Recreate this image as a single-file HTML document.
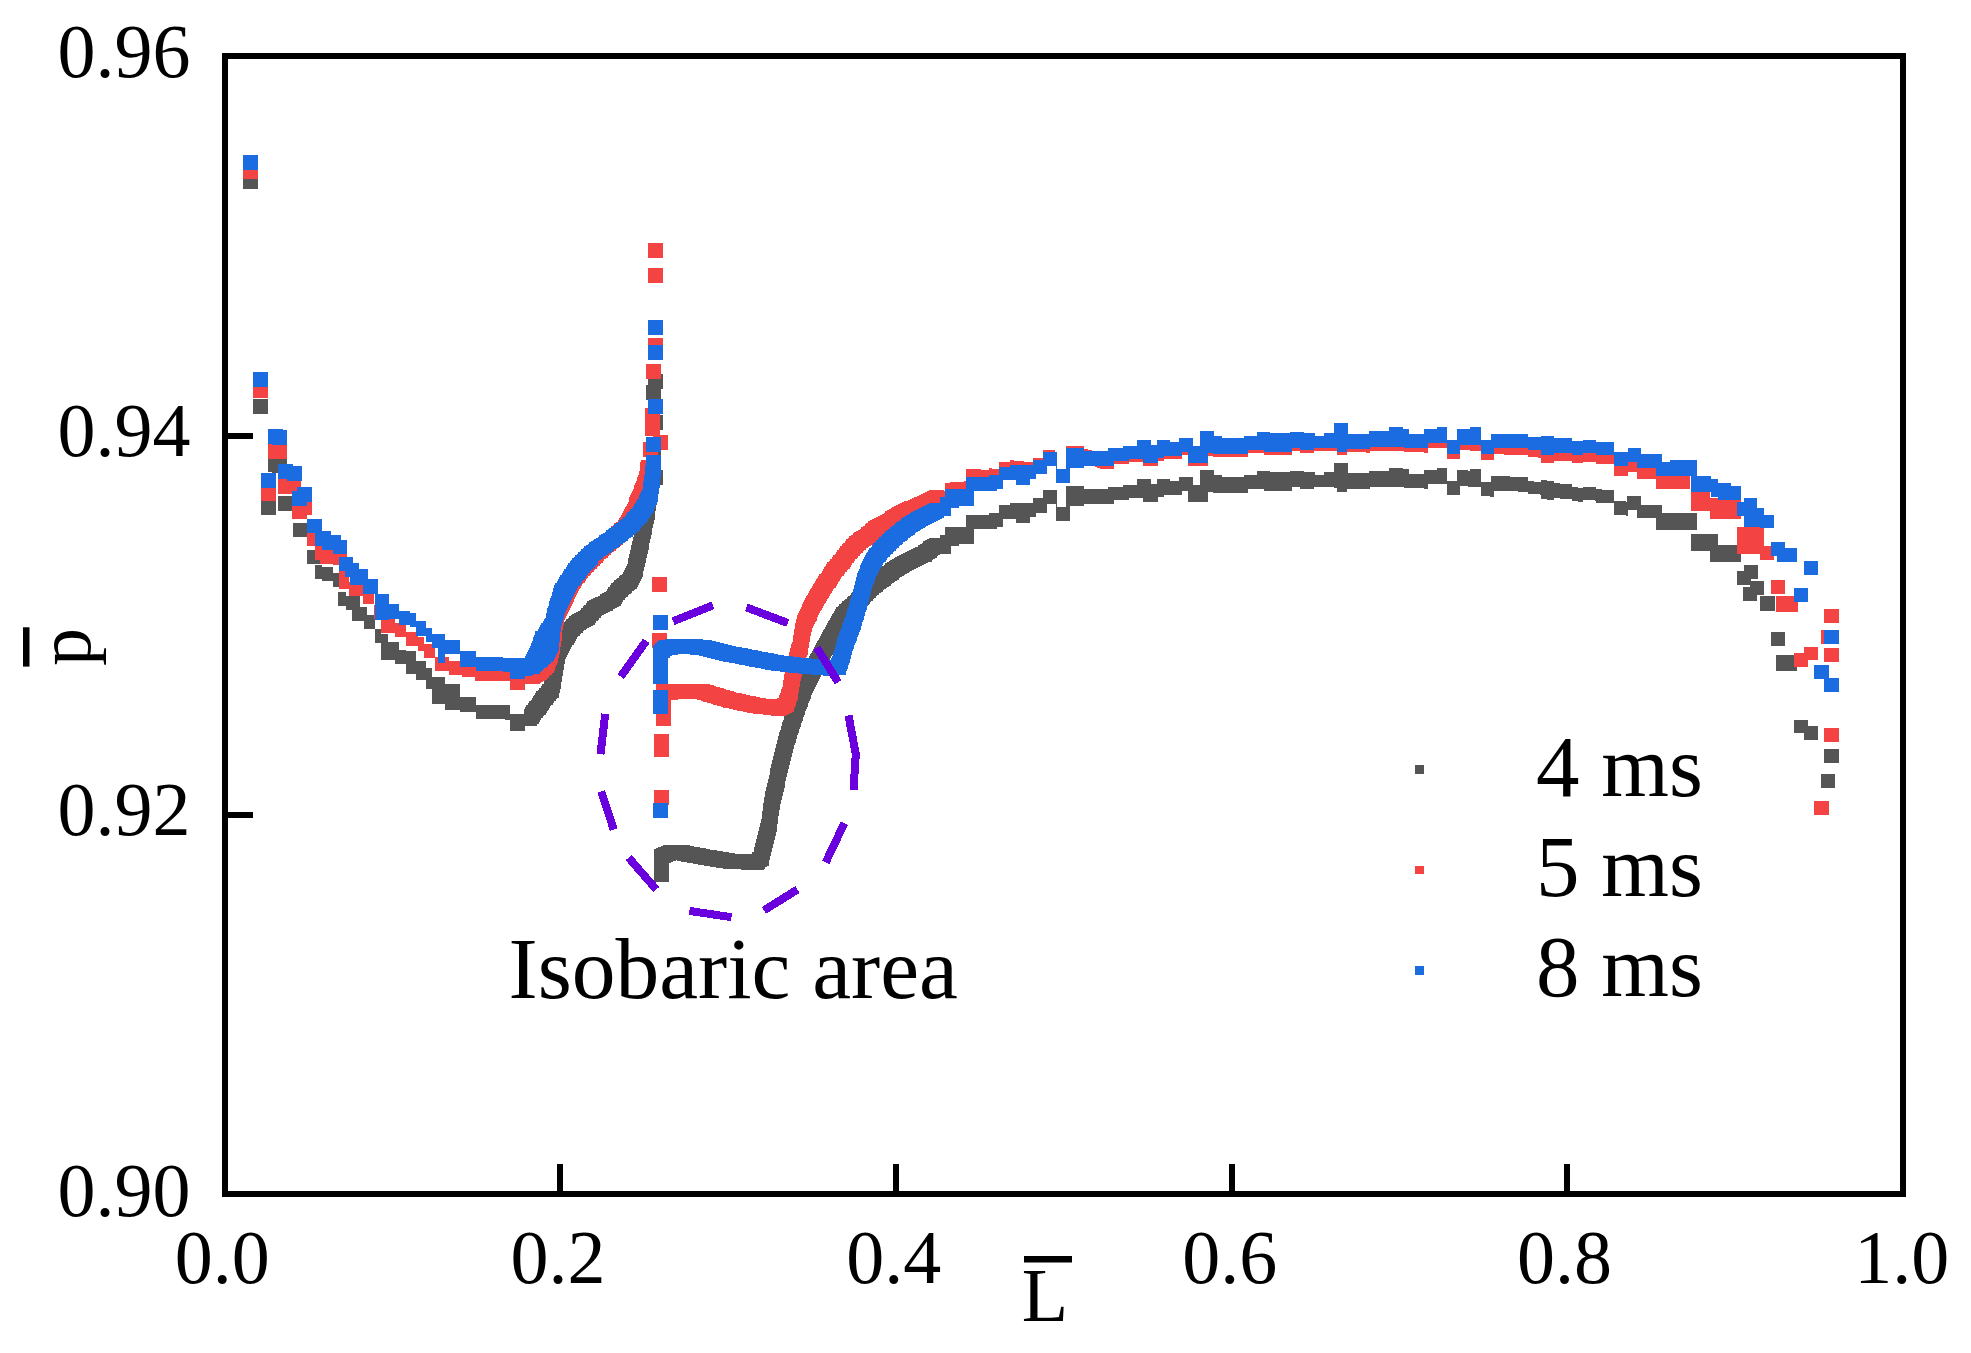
<!DOCTYPE html><html><head><meta charset="utf-8"><title>Chart</title><style>html,body{margin:0;padding:0;background:#fff;overflow:hidden}svg{display:block}</style></head><body><svg width="1971" height="1353" viewBox="0 0 1971 1353" shape-rendering="crispEdges"><rect x="0" y="0" width="1971" height="1353" fill="#ffffff"/><path fill="#555555" d="M242.5 173.5h15.0v15.0h-15.0zM252.8 399.3h15.0v15.0h-15.0zM261.1 499.5h15.0v15.0h-15.0zM267.5 457.0h15.0v15.0h-15.0zM271.5 457.5h15.0v15.0h-15.0zM277.5 495.5h15.0v15.0h-15.0zM285.5 495.5h15.0v15.0h-15.0zM523.5 708.5h15.0v15.0h-15.0zM524.9 706.7h15.0v15.0h-15.0zM526.3 704.9h15.0v15.0h-15.0zM527.7 703.1h15.0v15.0h-15.0zM529.1 701.3h15.0v15.0h-15.0zM530.5 699.5h15.0v15.0h-15.0zM531.7 697.8h15.0v15.0h-15.0zM532.8 696.2h15.0v15.0h-15.0zM534.0 694.5h15.0v15.0h-15.0zM535.2 692.8h15.0v15.0h-15.0zM536.3 691.2h15.0v15.0h-15.0zM537.5 689.5h15.0v15.0h-15.0zM539.0 687.8h15.0v15.0h-15.0zM540.5 686.0h15.0v15.0h-15.0zM542.0 684.2h15.0v15.0h-15.0zM543.5 682.5h15.0v15.0h-15.0zM544.0 680.2h15.0v15.0h-15.0zM544.5 678.0h15.0v15.0h-15.0zM545.0 675.8h15.0v15.0h-15.0zM545.5 673.5h15.0v15.0h-15.0zM545.8 671.3h15.0v15.0h-15.0zM546.2 669.2h15.0v15.0h-15.0zM546.5 667.0h15.0v15.0h-15.0zM546.8 664.8h15.0v15.0h-15.0zM547.2 662.7h15.0v15.0h-15.0zM547.5 660.5h15.0v15.0h-15.0zM547.8 658.5h15.0v15.0h-15.0zM548.2 656.5h15.0v15.0h-15.0zM548.5 654.5h15.0v15.0h-15.0zM548.8 652.5h15.0v15.0h-15.0zM549.2 650.5h15.0v15.0h-15.0zM549.5 648.5h15.0v15.0h-15.0zM550.3 646.3h15.0v15.0h-15.0zM551.1 644.1h15.0v15.0h-15.0zM551.9 641.9h15.0v15.0h-15.0zM552.7 639.7h15.0v15.0h-15.0zM553.5 637.5h15.0v15.0h-15.0zM554.8 635.5h15.0v15.0h-15.0zM556.0 633.5h15.0v15.0h-15.0zM557.2 631.5h15.0v15.0h-15.0zM558.5 629.5h15.0v15.0h-15.0zM559.7 627.7h15.0v15.0h-15.0zM560.9 625.9h15.0v15.0h-15.0zM562.1 624.1h15.0v15.0h-15.0zM563.3 622.3h15.0v15.0h-15.0zM564.5 620.5h15.0v15.0h-15.0zM566.0 619.0h15.0v15.0h-15.0zM567.5 617.5h15.0v15.0h-15.0zM569.0 616.0h15.0v15.0h-15.0zM570.5 614.5h15.0v15.0h-15.0zM572.3 613.5h15.0v15.0h-15.0zM574.1 612.5h15.0v15.0h-15.0zM575.9 611.5h15.0v15.0h-15.0zM577.7 610.5h15.0v15.0h-15.0zM579.5 609.5h15.0v15.0h-15.0zM581.0 607.8h15.0v15.0h-15.0zM582.5 606.2h15.0v15.0h-15.0zM584.0 604.5h15.0v15.0h-15.0zM585.5 602.8h15.0v15.0h-15.0zM587.0 601.2h15.0v15.0h-15.0zM588.5 599.5h15.0v15.0h-15.0zM590.8 598.5h15.0v15.0h-15.0zM593.0 597.5h15.0v15.0h-15.0zM595.2 596.5h15.0v15.0h-15.0zM597.5 595.5h15.0v15.0h-15.0zM599.5 594.2h15.0v15.0h-15.0zM601.5 593.0h15.0v15.0h-15.0zM603.5 591.8h15.0v15.0h-15.0zM605.5 590.5h15.0v15.0h-15.0zM606.9 588.7h15.0v15.0h-15.0zM608.3 586.9h15.0v15.0h-15.0zM609.7 585.1h15.0v15.0h-15.0zM611.1 583.3h15.0v15.0h-15.0zM612.5 581.5h15.0v15.0h-15.0zM614.0 580.2h15.0v15.0h-15.0zM615.5 578.8h15.0v15.0h-15.0zM617.0 577.5h15.0v15.0h-15.0zM618.5 576.2h15.0v15.0h-15.0zM620.0 574.8h15.0v15.0h-15.0zM621.5 573.5h15.0v15.0h-15.0zM622.5 571.5h15.0v15.0h-15.0zM623.5 569.5h15.0v15.0h-15.0zM624.5 567.5h15.0v15.0h-15.0zM625.5 565.5h15.0v15.0h-15.0zM626.5 563.5h15.0v15.0h-15.0zM627.5 561.5h15.0v15.0h-15.0zM627.9 559.5h15.0v15.0h-15.0zM628.4 557.5h15.0v15.0h-15.0zM628.8 555.5h15.0v15.0h-15.0zM629.2 553.5h15.0v15.0h-15.0zM629.6 551.5h15.0v15.0h-15.0zM630.1 549.5h15.0v15.0h-15.0zM630.5 547.5h15.0v15.0h-15.0zM631.0 545.3h15.0v15.0h-15.0zM631.5 543.2h15.0v15.0h-15.0zM632.0 541.0h15.0v15.0h-15.0zM632.5 538.8h15.0v15.0h-15.0zM633.0 536.7h15.0v15.0h-15.0zM633.5 534.5h15.0v15.0h-15.0zM633.9 532.4h15.0v15.0h-15.0zM634.4 530.2h15.0v15.0h-15.0zM634.8 528.1h15.0v15.0h-15.0zM635.2 525.9h15.0v15.0h-15.0zM635.6 523.8h15.0v15.0h-15.0zM636.1 521.6h15.0v15.0h-15.0zM636.5 519.5h15.0v15.0h-15.0zM636.9 517.4h15.0v15.0h-15.0zM637.4 515.2h15.0v15.0h-15.0zM637.8 513.1h15.0v15.0h-15.0zM638.2 510.9h15.0v15.0h-15.0zM638.6 508.8h15.0v15.0h-15.0zM639.1 506.6h15.0v15.0h-15.0zM639.5 504.5h15.0v15.0h-15.0zM639.8 502.4h15.0v15.0h-15.0zM640.1 500.2h15.0v15.0h-15.0zM640.4 498.1h15.0v15.0h-15.0zM640.6 495.9h15.0v15.0h-15.0zM640.9 493.8h15.0v15.0h-15.0zM641.2 491.6h15.0v15.0h-15.0zM641.5 489.5h15.0v15.0h-15.0zM641.8 487.3h15.0v15.0h-15.0zM642.2 485.2h15.0v15.0h-15.0zM642.5 483.0h15.0v15.0h-15.0zM642.8 480.8h15.0v15.0h-15.0zM643.2 478.7h15.0v15.0h-15.0zM643.5 476.5h15.0v15.0h-15.0zM648.1 469.5h15.0v15.0h-15.0zM646.1 447.5h15.0v15.0h-15.0zM648.1 414.5h15.0v15.0h-15.0zM645.5 384.5h15.0v15.0h-15.0zM647.5 373.5h15.0v15.0h-15.0zM654.0 867.0h15.0v15.0h-15.0zM654.0 864.9h15.0v15.0h-15.0zM654.0 862.9h15.0v15.0h-15.0zM654.0 860.8h15.0v15.0h-15.0zM654.0 858.8h15.0v15.0h-15.0zM654.0 856.7h15.0v15.0h-15.0zM654.0 854.7h15.0v15.0h-15.0zM654.0 852.6h15.0v15.0h-15.0zM654.0 850.6h15.0v15.0h-15.0zM654.0 848.5h15.0v15.0h-15.0zM656.2 847.5h15.0v15.0h-15.0zM658.3 846.5h15.0v15.0h-15.0zM660.5 845.5h15.0v15.0h-15.0zM662.5 845.4h15.0v15.0h-15.0zM664.5 845.3h15.0v15.0h-15.0zM666.5 845.2h15.0v15.0h-15.0zM668.5 845.2h15.0v15.0h-15.0zM670.5 845.1h15.0v15.0h-15.0zM672.5 845.0h15.0v15.0h-15.0zM674.6 845.4h15.0v15.0h-15.0zM676.7 845.8h15.0v15.0h-15.0zM678.8 846.1h15.0v15.0h-15.0zM680.8 846.5h15.0v15.0h-15.0zM682.9 846.9h15.0v15.0h-15.0zM685.0 847.2h15.0v15.0h-15.0zM687.1 847.6h15.0v15.0h-15.0zM689.2 848.0h15.0v15.0h-15.0zM691.2 848.4h15.0v15.0h-15.0zM693.3 848.8h15.0v15.0h-15.0zM695.4 849.1h15.0v15.0h-15.0zM697.5 849.5h15.0v15.0h-15.0zM699.6 849.8h15.0v15.0h-15.0zM701.7 850.2h15.0v15.0h-15.0zM703.8 850.5h15.0v15.0h-15.0zM705.8 850.8h15.0v15.0h-15.0zM707.9 851.2h15.0v15.0h-15.0zM710.0 851.5h15.0v15.0h-15.0zM712.1 851.8h15.0v15.0h-15.0zM714.2 852.2h15.0v15.0h-15.0zM716.2 852.5h15.0v15.0h-15.0zM718.3 852.8h15.0v15.0h-15.0zM720.4 853.2h15.0v15.0h-15.0zM722.5 853.5h15.0v15.0h-15.0zM724.5 853.6h15.0v15.0h-15.0zM726.5 853.7h15.0v15.0h-15.0zM728.5 853.8h15.0v15.0h-15.0zM730.5 854.0h15.0v15.0h-15.0zM732.5 854.1h15.0v15.0h-15.0zM734.5 854.2h15.0v15.0h-15.0zM736.5 854.3h15.0v15.0h-15.0zM738.5 854.4h15.0v15.0h-15.0zM740.5 854.5h15.0v15.0h-15.0zM742.5 854.7h15.0v15.0h-15.0zM744.5 854.8h15.0v15.0h-15.0zM746.5 854.9h15.0v15.0h-15.0zM748.5 855.0h15.0v15.0h-15.0zM750.2 853.5h15.0v15.0h-15.0zM751.8 852.0h15.0v15.0h-15.0zM753.5 850.5h15.0v15.0h-15.0zM753.9 848.5h15.0v15.0h-15.0zM754.4 846.5h15.0v15.0h-15.0zM754.8 844.5h15.0v15.0h-15.0zM755.3 842.5h15.0v15.0h-15.0zM755.7 840.5h15.0v15.0h-15.0zM756.2 838.5h15.0v15.0h-15.0zM756.6 836.5h15.0v15.0h-15.0zM757.1 834.5h15.0v15.0h-15.0zM757.5 832.5h15.0v15.0h-15.0zM758.0 830.5h15.0v15.0h-15.0zM758.5 828.5h15.0v15.0h-15.0zM759.0 826.5h15.0v15.0h-15.0zM759.5 824.5h15.0v15.0h-15.0zM760.0 822.5h15.0v15.0h-15.0zM760.5 820.5h15.0v15.0h-15.0zM761.0 818.5h15.0v15.0h-15.0zM761.5 816.5h15.0v15.0h-15.0zM761.8 814.5h15.0v15.0h-15.0zM762.0 812.5h15.0v15.0h-15.0zM762.3 810.5h15.0v15.0h-15.0zM762.6 808.5h15.0v15.0h-15.0zM762.9 806.5h15.0v15.0h-15.0zM763.1 804.5h15.0v15.0h-15.0zM763.4 802.5h15.0v15.0h-15.0zM763.7 800.5h15.0v15.0h-15.0zM764.0 798.5h15.0v15.0h-15.0zM764.2 796.5h15.0v15.0h-15.0zM764.5 794.5h15.0v15.0h-15.0zM765.0 792.5h15.0v15.0h-15.0zM765.4 790.5h15.0v15.0h-15.0zM765.9 788.5h15.0v15.0h-15.0zM766.3 786.5h15.0v15.0h-15.0zM766.8 784.5h15.0v15.0h-15.0zM767.2 782.5h15.0v15.0h-15.0zM767.7 780.5h15.0v15.0h-15.0zM768.1 778.5h15.0v15.0h-15.0zM768.6 776.5h15.0v15.0h-15.0zM769.0 774.5h15.0v15.0h-15.0zM769.5 772.5h15.0v15.0h-15.0zM770.0 770.4h15.0v15.0h-15.0zM770.4 768.3h15.0v15.0h-15.0zM770.9 766.2h15.0v15.0h-15.0zM771.3 764.1h15.0v15.0h-15.0zM771.8 762.0h15.0v15.0h-15.0zM772.2 760.0h15.0v15.0h-15.0zM772.7 757.9h15.0v15.0h-15.0zM773.1 755.8h15.0v15.0h-15.0zM773.6 753.7h15.0v15.0h-15.0zM774.0 751.6h15.0v15.0h-15.0zM774.5 749.5h15.0v15.0h-15.0zM775.0 747.5h15.0v15.0h-15.0zM775.6 745.5h15.0v15.0h-15.0zM776.1 743.5h15.0v15.0h-15.0zM776.7 741.5h15.0v15.0h-15.0zM777.2 739.5h15.0v15.0h-15.0zM777.8 737.5h15.0v15.0h-15.0zM778.3 735.5h15.0v15.0h-15.0zM778.9 733.5h15.0v15.0h-15.0zM779.4 731.5h15.0v15.0h-15.0zM780.0 729.5h15.0v15.0h-15.0zM780.5 727.5h15.0v15.0h-15.0zM781.1 725.5h15.0v15.0h-15.0zM781.8 723.5h15.0v15.0h-15.0zM782.4 721.5h15.0v15.0h-15.0zM783.0 719.5h15.0v15.0h-15.0zM783.7 717.5h15.0v15.0h-15.0zM784.3 715.5h15.0v15.0h-15.0zM785.0 713.5h15.0v15.0h-15.0zM785.6 711.5h15.0v15.0h-15.0zM786.2 709.5h15.0v15.0h-15.0zM786.9 707.5h15.0v15.0h-15.0zM787.5 705.5h15.0v15.0h-15.0zM788.2 703.5h15.0v15.0h-15.0zM789.0 701.5h15.0v15.0h-15.0zM789.7 699.5h15.0v15.0h-15.0zM790.4 697.5h15.0v15.0h-15.0zM791.1 695.5h15.0v15.0h-15.0zM791.9 693.5h15.0v15.0h-15.0zM792.6 691.5h15.0v15.0h-15.0zM793.3 689.5h15.0v15.0h-15.0zM794.0 687.5h15.0v15.0h-15.0zM794.8 685.5h15.0v15.0h-15.0zM795.5 683.5h15.0v15.0h-15.0zM796.4 681.5h15.0v15.0h-15.0zM797.2 679.5h15.0v15.0h-15.0zM798.1 677.5h15.0v15.0h-15.0zM799.0 675.5h15.0v15.0h-15.0zM799.9 673.5h15.0v15.0h-15.0zM800.8 671.5h15.0v15.0h-15.0zM801.6 669.5h15.0v15.0h-15.0zM802.5 667.5h15.0v15.0h-15.0zM803.5 665.6h15.0v15.0h-15.0zM804.5 663.8h15.0v15.0h-15.0zM805.5 661.9h15.0v15.0h-15.0zM806.5 660.0h15.0v15.0h-15.0zM807.5 658.1h15.0v15.0h-15.0zM808.5 656.2h15.0v15.0h-15.0zM809.5 654.4h15.0v15.0h-15.0zM810.5 652.5h15.0v15.0h-15.0zM811.5 650.7h15.0v15.0h-15.0zM812.5 648.8h15.0v15.0h-15.0zM813.5 647.0h15.0v15.0h-15.0zM814.5 645.1h15.0v15.0h-15.0zM815.5 643.3h15.0v15.0h-15.0zM816.5 641.4h15.0v15.0h-15.0zM817.5 639.6h15.0v15.0h-15.0zM818.5 637.7h15.0v15.0h-15.0zM819.5 635.9h15.0v15.0h-15.0zM820.5 634.0h15.0v15.0h-15.0zM821.5 632.2h15.0v15.0h-15.0zM822.5 630.3h15.0v15.0h-15.0zM823.5 628.5h15.0v15.0h-15.0zM824.6 626.7h15.0v15.0h-15.0zM825.7 625.0h15.0v15.0h-15.0zM826.7 623.2h15.0v15.0h-15.0zM827.8 621.4h15.0v15.0h-15.0zM828.9 619.7h15.0v15.0h-15.0zM830.0 617.9h15.0v15.0h-15.0zM831.0 616.1h15.0v15.0h-15.0zM832.1 614.3h15.0v15.0h-15.0zM833.2 612.6h15.0v15.0h-15.0zM834.3 610.8h15.0v15.0h-15.0zM835.3 609.0h15.0v15.0h-15.0zM836.4 607.3h15.0v15.0h-15.0zM837.5 605.5h15.0v15.0h-15.0zM839.0 604.1h15.0v15.0h-15.0zM840.5 602.8h15.0v15.0h-15.0zM842.0 601.4h15.0v15.0h-15.0zM843.5 600.0h15.0v15.0h-15.0zM845.0 598.6h15.0v15.0h-15.0zM846.5 597.2h15.0v15.0h-15.0zM848.0 595.9h15.0v15.0h-15.0zM849.5 594.5h15.0v15.0h-15.0zM850.9 593.0h15.0v15.0h-15.0zM852.2 591.5h15.0v15.0h-15.0zM853.6 590.0h15.0v15.0h-15.0zM855.0 588.5h15.0v15.0h-15.0zM856.4 587.0h15.0v15.0h-15.0zM857.8 585.5h15.0v15.0h-15.0zM859.1 584.0h15.0v15.0h-15.0zM860.5 582.5h15.0v15.0h-15.0zM862.2 581.0h15.0v15.0h-15.0zM864.0 579.5h15.0v15.0h-15.0zM865.8 578.0h15.0v15.0h-15.0zM867.5 576.5h15.0v15.0h-15.0zM869.1 575.3h15.0v15.0h-15.0zM870.7 574.1h15.0v15.0h-15.0zM872.3 572.9h15.0v15.0h-15.0zM873.9 571.7h15.0v15.0h-15.0zM875.5 570.5h15.0v15.0h-15.0zM877.1 569.3h15.0v15.0h-15.0zM878.7 568.1h15.0v15.0h-15.0zM880.3 566.9h15.0v15.0h-15.0zM881.9 565.7h15.0v15.0h-15.0zM883.5 564.5h15.0v15.0h-15.0zM885.2 563.4h15.0v15.0h-15.0zM886.9 562.3h15.0v15.0h-15.0zM888.6 561.2h15.0v15.0h-15.0zM890.3 560.1h15.0v15.0h-15.0zM892.0 559.0h15.0v15.0h-15.0zM893.7 557.9h15.0v15.0h-15.0zM895.4 556.8h15.0v15.0h-15.0zM897.1 555.7h15.0v15.0h-15.0zM898.8 554.6h15.0v15.0h-15.0zM900.5 553.5h15.0v15.0h-15.0zM902.5 552.6h15.0v15.0h-15.0zM904.5 551.8h15.0v15.0h-15.0zM906.5 550.9h15.0v15.0h-15.0zM908.5 550.0h15.0v15.0h-15.0zM910.5 549.1h15.0v15.0h-15.0zM912.5 548.2h15.0v15.0h-15.0zM914.5 547.4h15.0v15.0h-15.0zM916.5 546.5h15.0v15.0h-15.0zM918.2 545.2h15.0v15.0h-15.0zM919.9 543.9h15.0v15.0h-15.0zM921.6 542.6h15.0v15.0h-15.0zM923.4 541.4h15.0v15.0h-15.0zM925.1 540.1h15.0v15.0h-15.0zM926.8 538.8h15.0v15.0h-15.0zM928.5 537.5h15.0v15.0h-15.0zM292.5 523.0H307.0V537.0H292.5zM307.3 550.0H322.0V564.2H307.3zM315.4 565.0H322.0V579.0H315.4zM322.0 567.0H332.5V581.0H322.0zM332.5 573.0H345.0V587.0H332.5zM338.4 592.0H346.0V606.0H338.4zM345.7 596.0H360.0V610.0H345.7zM352.0 606.5H366.8V620.5H352.0zM364.0 614.6H374.5V628.6H364.0zM374.5 629.0H380.7V643.0H374.5zM380.7 633.8H388.0V659.7H380.7zM388.0 642.0H398.8V659.7H388.0zM395.0 649.8H405.5V663.8H395.0zM405.5 651.4H416.0V674.0H405.5zM416.0 661.2H426.2V680.3H416.0zM426.2 668.0H432.4V689.0H426.2zM432.4 676.7H445.3V703.6H432.4zM445.3 684.0H459.8V709.8H445.3zM459.8 697.0H476.4V712.0H459.8zM476.4 704.5H504.5V719.3H476.4zM504.5 705.0H510.0V720.0H504.5zM510.0 713.5H525.0V730.8H510.0zM525.0 706.8H537.0V726.0H525.0zM940.0 535.0H945.0V554.0H940.0zM945.0 527.0H951.0V554.0H945.0zM951.0 527.0H959.0V546.0H951.0zM959.0 527.1H966.0V543.7H959.0zM966.0 515.3H974.0V543.7H966.0zM974.0 515.3H989.0V529.1H974.0zM989.0 512.9H997.0V529.2H989.0zM997.0 512.9H999.0V526.7H997.0zM999.0 504.8H1003.0V526.7H999.0zM1003.0 504.8H1010.0V518.6H1003.0zM1010.0 502.8H1016.0V518.7H1010.0zM1016.0 502.8H1030.0V523.3H1016.0zM1030.0 502.8H1033.0V517.1H1030.0zM1033.0 498.3H1036.0V517.1H1033.0zM1036.0 498.4H1043.0V512.7H1036.0zM1043.0 490.4H1047.0V512.7H1043.0zM1047.0 490.4H1056.0V504.2H1047.0zM1056.0 490.4H1057.0V521.2H1056.0zM1057.0 507.4H1066.0V521.2H1057.0zM1066.0 486.4H1070.0V521.3H1066.0zM1070.0 486.4H1084.0V506.3H1070.0zM1084.0 489.0H1108.0V504.1H1084.0zM1108.0 486.6H1114.0V504.2H1108.0zM1114.0 486.7H1123.0V499.7H1114.0zM1123.0 484.7H1129.0V499.7H1123.0zM1129.0 484.7H1137.0V497.7H1129.0zM1137.0 478.7H1143.0V497.7H1137.0zM1143.0 478.8H1151.0V501.8H1143.0zM1151.0 483.8H1157.0V501.8H1151.0zM1157.0 478.8H1158.0V501.8H1157.0zM1158.0 478.8H1164.0V496.8H1158.0zM1164.0 478.8H1170.0V494.8H1164.0zM1170.0 480.9H1179.0V494.9H1170.0zM1179.0 476.5H1182.0V494.9H1179.0zM1182.0 476.5H1188.0V491.3H1182.0zM1188.0 476.5H1193.0V501.9H1188.0zM1193.0 484.9H1200.0V501.9H1193.0zM1200.0 470.0H1208.0V502.0H1200.0zM1208.0 470.0H1213.0V492.0H1208.0zM1213.0 470.0H1214.0V493.0H1213.0zM1214.0 474.6H1222.0V493.0H1214.0zM1222.0 477.1H1244.0V493.1H1222.0zM1244.0 474.7H1248.0V493.1H1244.0zM1248.0 474.8H1257.0V489.2H1248.0zM1257.0 470.8H1264.0V489.2H1257.0zM1264.0 470.8H1270.0V491.2H1264.0zM1270.0 472.2H1290.0V491.2H1270.0zM1290.0 470.9H1292.0V491.3H1290.0zM1292.0 470.9H1300.0V487.3H1292.0zM1300.0 471.0H1304.0V489.4H1300.0zM1304.0 472.4H1314.0V489.4H1304.0zM1314.0 472.4H1315.0V487.4H1314.0zM1315.0 475.0H1324.0V487.4H1315.0zM1324.0 472.4H1334.0V487.4H1324.0zM1334.0 462.5H1337.0V487.5H1334.0zM1337.0 462.5H1347.0V491.5H1337.0zM1347.0 462.6H1348.0V488.6H1347.0zM1348.0 473.1H1369.0V488.6H1348.0zM1369.0 471.1H1370.0V488.9H1369.0zM1370.0 471.1H1389.0V486.9H1370.0zM1389.0 467.6H1403.0V487.2H1389.0zM1403.0 469.4H1404.0V487.4H1403.0zM1404.0 469.4H1409.0V488.4H1404.0zM1409.0 473.9H1424.0V488.4H1409.0zM1424.0 469.6H1428.0V488.6H1424.0zM1428.0 469.7H1437.0V483.7H1428.0zM1437.0 468.2H1447.0V483.8H1437.0zM1447.0 480.6H1457.0V495.0H1447.0zM1457.0 470.3H1460.0V495.3H1457.0zM1460.0 470.4H1468.0V486.4H1460.0zM1468.0 470.7H1470.0V486.7H1468.0zM1470.0 469.1H1478.0V486.8H1470.0zM1478.0 469.4H1481.0V487.1H1478.0zM1481.0 481.8H1490.0V496.2H1481.0zM1490.0 482.1H1491.0V496.5H1490.0zM1491.0 476.0H1494.0V496.5H1491.0zM1494.0 476.1H1502.0V490.6H1494.0zM1502.0 476.4H1510.0V490.9H1502.0zM1510.0 476.8H1518.0V491.2H1510.0zM1518.0 477.1H1526.0V491.6H1518.0zM1526.0 477.4H1528.0V491.9H1526.0zM1528.0 481.2H1534.0V493.9H1528.0zM1534.0 481.5H1540.0V494.2H1534.0zM1540.0 481.9H1541.0V494.6H1540.0zM1541.0 480.4H1547.0V499.4H1541.0zM1547.0 480.8H1553.0V499.8H1547.0zM1553.0 481.1H1554.0V500.1H1553.0zM1554.0 483.4H1560.0V498.4H1554.0zM1560.0 483.7H1566.0V498.7H1560.0zM1566.0 484.1H1572.0V499.1H1566.0zM1572.0 487.4H1578.0V501.2H1572.0zM1578.0 487.7H1583.0V501.5H1578.0zM1583.0 486.6H1589.0V500.0H1583.0zM1589.0 487.0H1595.0V500.4H1589.0zM1595.0 487.3H1596.0V500.7H1595.0zM1596.0 489.3H1602.0V502.8H1596.0zM1602.0 489.6H1608.0V503.1H1602.0zM1608.0 489.9H1614.0V503.4H1608.0zM1614.0 500.9H1620.0V515.0H1614.0zM1620.0 501.3H1626.0V515.3H1620.0zM1626.0 501.6H1628.0V515.6H1626.0zM1626.7 496.0H1640.7V510.0H1626.7zM1636.5 504.5H1661.8V517.8H1636.5zM1655.5 513.0H1697.0V530.0H1655.5zM1691.0 534.0H1718.0V551.0H1691.0zM1709.6 544.5H1740.5V562.0H1709.6zM1737.0 571.0H1751.0V585.0H1737.0zM1744.0 565.0H1758.0V579.0H1744.0zM1750.0 581.0H1764.0V595.0H1750.0zM1743.0 587.0H1757.0V601.0H1743.0zM1760.0 596.0H1774.5V610.5H1760.0zM1770.8 631.7H1784.6V645.6H1770.8zM1776.3 654.8H1796.7V670.5H1776.3zM1793.5 719.5H1807.7V733.3H1793.5zM1804.0 726.0H1818.0V739.8H1804.0zM1824.4 748.5H1839.0V762.9H1824.4zM1820.7 773.6H1834.9V787.8H1820.7z"/><path fill="#f44343" d="M242.5 163.5h15.0v15.0h-15.0zM252.8 382.5h15.0v15.0h-15.0zM261.1 485.5h15.0v15.0h-15.0zM267.5 443.5h15.0v15.0h-15.0zM271.5 444.0h15.0v15.0h-15.0zM277.5 478.9h15.0v15.0h-15.0zM285.5 478.9h15.0v15.0h-15.0zM291.5 503.5h15.0v15.0h-15.0zM296.5 499.5h15.0v15.0h-15.0zM524.5 668.5h15.0v15.0h-15.0zM526.3 667.5h15.0v15.0h-15.0zM528.1 666.5h15.0v15.0h-15.0zM530.0 665.5h15.0v15.0h-15.0zM531.8 664.5h15.0v15.0h-15.0zM533.6 663.0h15.0v15.0h-15.0zM535.4 661.4h15.0v15.0h-15.0zM537.2 659.8h15.0v15.0h-15.0zM539.0 658.3h15.0v15.0h-15.0zM539.7 656.1h15.0v15.0h-15.0zM540.4 654.0h15.0v15.0h-15.0zM541.1 651.8h15.0v15.0h-15.0zM541.8 649.7h15.0v15.0h-15.0zM542.5 647.5h15.0v15.0h-15.0zM543.0 645.4h15.0v15.0h-15.0zM543.5 643.3h15.0v15.0h-15.0zM544.0 641.2h15.0v15.0h-15.0zM544.5 639.1h15.0v15.0h-15.0zM545.0 637.0h15.0v15.0h-15.0zM545.3 634.7h15.0v15.0h-15.0zM545.6 632.4h15.0v15.0h-15.0zM545.9 630.1h15.0v15.0h-15.0zM546.2 627.8h15.0v15.0h-15.0zM546.5 625.5h15.0v15.0h-15.0zM546.7 623.3h15.0v15.0h-15.0zM546.9 621.1h15.0v15.0h-15.0zM547.1 618.9h15.0v15.0h-15.0zM547.3 616.7h15.0v15.0h-15.0zM547.5 614.5h15.0v15.0h-15.0zM548.1 612.1h15.0v15.0h-15.0zM548.8 609.8h15.0v15.0h-15.0zM549.4 607.4h15.0v15.0h-15.0zM550.0 605.0h15.0v15.0h-15.0zM550.9 602.9h15.0v15.0h-15.0zM551.8 600.8h15.0v15.0h-15.0zM552.6 598.6h15.0v15.0h-15.0zM553.5 596.5h15.0v15.0h-15.0zM554.5 594.5h15.0v15.0h-15.0zM555.5 592.5h15.0v15.0h-15.0zM556.5 590.5h15.0v15.0h-15.0zM557.5 588.5h15.0v15.0h-15.0zM558.5 586.5h15.0v15.0h-15.0zM559.5 584.4h15.0v15.0h-15.0zM560.5 582.3h15.0v15.0h-15.0zM561.5 580.2h15.0v15.0h-15.0zM562.5 578.1h15.0v15.0h-15.0zM563.5 576.0h15.0v15.0h-15.0zM564.7 574.3h15.0v15.0h-15.0zM565.9 572.6h15.0v15.0h-15.0zM567.1 570.9h15.0v15.0h-15.0zM568.3 569.2h15.0v15.0h-15.0zM569.5 567.5h15.0v15.0h-15.0zM570.8 565.9h15.0v15.0h-15.0zM572.1 564.3h15.0v15.0h-15.0zM573.4 562.7h15.0v15.0h-15.0zM574.7 561.1h15.0v15.0h-15.0zM576.0 559.5h15.0v15.0h-15.0zM577.4 558.1h15.0v15.0h-15.0zM578.8 556.7h15.0v15.0h-15.0zM580.2 555.2h15.0v15.0h-15.0zM581.7 553.8h15.0v15.0h-15.0zM583.1 552.4h15.0v15.0h-15.0zM584.5 551.0h15.0v15.0h-15.0zM586.1 549.3h15.0v15.0h-15.0zM587.7 547.6h15.0v15.0h-15.0zM589.3 545.9h15.0v15.0h-15.0zM590.9 544.2h15.0v15.0h-15.0zM592.5 542.5h15.0v15.0h-15.0zM594.1 541.1h15.0v15.0h-15.0zM595.7 539.7h15.0v15.0h-15.0zM597.3 538.3h15.0v15.0h-15.0zM598.9 536.9h15.0v15.0h-15.0zM600.5 535.5h15.0v15.0h-15.0zM602.4 534.0h15.0v15.0h-15.0zM604.4 532.5h15.0v15.0h-15.0zM606.3 531.0h15.0v15.0h-15.0zM608.2 529.5h15.0v15.0h-15.0zM609.8 528.0h15.0v15.0h-15.0zM611.3 526.4h15.0v15.0h-15.0zM612.9 524.9h15.0v15.0h-15.0zM614.4 523.3h15.0v15.0h-15.0zM616.0 521.8h15.0v15.0h-15.0zM617.5 520.2h15.0v15.0h-15.0zM618.5 518.4h15.0v15.0h-15.0zM619.6 516.5h15.0v15.0h-15.0zM620.6 514.7h15.0v15.0h-15.0zM621.6 512.9h15.0v15.0h-15.0zM622.7 511.0h15.0v15.0h-15.0zM623.7 509.2h15.0v15.0h-15.0zM624.7 507.4h15.0v15.0h-15.0zM625.8 505.5h15.0v15.0h-15.0zM626.8 503.7h15.0v15.0h-15.0zM627.7 501.6h15.0v15.0h-15.0zM628.5 499.5h15.0v15.0h-15.0zM629.4 497.4h15.0v15.0h-15.0zM630.3 495.4h15.0v15.0h-15.0zM631.1 493.3h15.0v15.0h-15.0zM632.0 491.2h15.0v15.0h-15.0zM632.8 489.2h15.0v15.0h-15.0zM633.5 487.3h15.0v15.0h-15.0zM634.2 485.4h15.0v15.0h-15.0zM635.0 483.4h15.0v15.0h-15.0zM635.8 481.4h15.0v15.0h-15.0zM636.5 479.5h15.0v15.0h-15.0zM637.2 477.2h15.0v15.0h-15.0zM637.9 475.0h15.0v15.0h-15.0zM638.5 472.8h15.0v15.0h-15.0zM639.2 470.5h15.0v15.0h-15.0zM639.5 468.3h15.0v15.0h-15.0zM639.7 466.1h15.0v15.0h-15.0zM640.0 463.9h15.0v15.0h-15.0zM640.2 461.7h15.0v15.0h-15.0zM640.5 459.5h15.0v15.0h-15.0zM647.5 242.5h15.0v15.0h-15.0zM647.5 267.5h15.0v15.0h-15.0zM647.5 338.1h15.0v15.0h-15.0zM645.5 363.5h15.0v15.0h-15.0zM644.5 407.5h15.0v15.0h-15.0zM644.5 420.5h15.0v15.0h-15.0zM652.5 434.5h15.0v15.0h-15.0zM642.5 441.5h15.0v15.0h-15.0zM652.0 576.5h15.0v15.0h-15.0zM652.0 633.0h15.0v15.0h-15.0zM654.0 733.5h15.0v15.0h-15.0zM654.0 741.5h15.0v15.0h-15.0zM654.0 789.5h15.0v15.0h-15.0zM655.5 710.5h15.0v15.0h-15.0zM655.5 708.4h15.0v15.0h-15.0zM655.5 706.3h15.0v15.0h-15.0zM655.5 704.3h15.0v15.0h-15.0zM655.5 702.2h15.0v15.0h-15.0zM655.5 700.1h15.0v15.0h-15.0zM655.5 698.0h15.0v15.0h-15.0zM655.5 696.0h15.0v15.0h-15.0zM655.5 693.9h15.0v15.0h-15.0zM655.5 691.8h15.0v15.0h-15.0zM655.5 689.7h15.0v15.0h-15.0zM655.5 687.7h15.0v15.0h-15.0zM655.5 685.6h15.0v15.0h-15.0zM655.5 683.5h15.0v15.0h-15.0zM657.8 683.8h15.0v15.0h-15.0zM660.2 684.2h15.0v15.0h-15.0zM662.5 684.5h15.0v15.0h-15.0zM664.5 684.4h15.0v15.0h-15.0zM666.5 684.4h15.0v15.0h-15.0zM668.5 684.3h15.0v15.0h-15.0zM670.5 684.2h15.0v15.0h-15.0zM672.5 684.2h15.0v15.0h-15.0zM674.5 684.1h15.0v15.0h-15.0zM676.5 684.0h15.0v15.0h-15.0zM678.5 684.0h15.0v15.0h-15.0zM680.5 683.9h15.0v15.0h-15.0zM682.5 683.8h15.0v15.0h-15.0zM684.5 683.8h15.0v15.0h-15.0zM686.5 683.7h15.0v15.0h-15.0zM688.5 683.6h15.0v15.0h-15.0zM690.5 683.6h15.0v15.0h-15.0zM692.5 683.5h15.0v15.0h-15.0zM694.5 684.1h15.0v15.0h-15.0zM696.5 684.7h15.0v15.0h-15.0zM698.5 685.3h15.0v15.0h-15.0zM700.5 685.9h15.0v15.0h-15.0zM702.5 686.5h15.0v15.0h-15.0zM704.5 687.1h15.0v15.0h-15.0zM706.5 687.7h15.0v15.0h-15.0zM708.5 688.3h15.0v15.0h-15.0zM710.5 688.9h15.0v15.0h-15.0zM712.5 689.5h15.0v15.0h-15.0zM714.5 690.1h15.0v15.0h-15.0zM716.5 690.7h15.0v15.0h-15.0zM718.5 691.3h15.0v15.0h-15.0zM720.5 691.9h15.0v15.0h-15.0zM722.5 692.5h15.0v15.0h-15.0zM724.5 692.9h15.0v15.0h-15.0zM726.5 693.3h15.0v15.0h-15.0zM728.5 693.8h15.0v15.0h-15.0zM730.5 694.2h15.0v15.0h-15.0zM732.5 694.6h15.0v15.0h-15.0zM734.5 695.0h15.0v15.0h-15.0zM736.5 695.5h15.0v15.0h-15.0zM738.5 695.9h15.0v15.0h-15.0zM740.5 696.3h15.0v15.0h-15.0zM742.5 696.7h15.0v15.0h-15.0zM744.5 697.2h15.0v15.0h-15.0zM746.5 697.6h15.0v15.0h-15.0zM748.5 698.0h15.0v15.0h-15.0zM750.5 698.2h15.0v15.0h-15.0zM752.5 698.5h15.0v15.0h-15.0zM754.5 698.7h15.0v15.0h-15.0zM756.5 698.9h15.0v15.0h-15.0zM758.5 699.1h15.0v15.0h-15.0zM760.5 699.4h15.0v15.0h-15.0zM762.5 699.6h15.0v15.0h-15.0zM764.5 699.8h15.0v15.0h-15.0zM766.5 700.0h15.0v15.0h-15.0zM768.5 700.3h15.0v15.0h-15.0zM770.5 700.5h15.0v15.0h-15.0zM772.5 699.5h15.0v15.0h-15.0zM774.5 698.5h15.0v15.0h-15.0zM776.5 697.5h15.0v15.0h-15.0zM778.5 696.5h15.0v15.0h-15.0zM779.2 694.5h15.0v15.0h-15.0zM779.8 692.5h15.0v15.0h-15.0zM780.5 690.5h15.0v15.0h-15.0zM781.2 688.5h15.0v15.0h-15.0zM781.8 686.5h15.0v15.0h-15.0zM782.5 684.5h15.0v15.0h-15.0zM782.9 682.4h15.0v15.0h-15.0zM783.2 680.3h15.0v15.0h-15.0zM783.6 678.2h15.0v15.0h-15.0zM784.0 676.1h15.0v15.0h-15.0zM784.3 674.0h15.0v15.0h-15.0zM784.7 672.0h15.0v15.0h-15.0zM785.0 669.9h15.0v15.0h-15.0zM785.4 667.8h15.0v15.0h-15.0zM785.8 665.7h15.0v15.0h-15.0zM786.1 663.6h15.0v15.0h-15.0zM786.5 661.5h15.0v15.0h-15.0zM787.0 659.5h15.0v15.0h-15.0zM787.6 657.5h15.0v15.0h-15.0zM788.1 655.5h15.0v15.0h-15.0zM788.7 653.5h15.0v15.0h-15.0zM789.2 651.5h15.0v15.0h-15.0zM789.8 649.5h15.0v15.0h-15.0zM790.3 647.5h15.0v15.0h-15.0zM790.9 645.5h15.0v15.0h-15.0zM791.4 643.5h15.0v15.0h-15.0zM792.0 641.5h15.0v15.0h-15.0zM792.5 639.5h15.0v15.0h-15.0zM792.9 637.4h15.0v15.0h-15.0zM793.2 635.3h15.0v15.0h-15.0zM793.6 633.2h15.0v15.0h-15.0zM794.0 631.1h15.0v15.0h-15.0zM794.3 629.0h15.0v15.0h-15.0zM794.7 627.0h15.0v15.0h-15.0zM795.0 624.9h15.0v15.0h-15.0zM795.4 622.8h15.0v15.0h-15.0zM795.8 620.7h15.0v15.0h-15.0zM796.1 618.6h15.0v15.0h-15.0zM796.5 616.5h15.0v15.0h-15.0zM797.3 614.7h15.0v15.0h-15.0zM798.2 612.8h15.0v15.0h-15.0zM799.0 611.0h15.0v15.0h-15.0zM799.8 609.2h15.0v15.0h-15.0zM800.7 607.3h15.0v15.0h-15.0zM801.5 605.5h15.0v15.0h-15.0zM802.3 603.7h15.0v15.0h-15.0zM803.2 601.8h15.0v15.0h-15.0zM804.0 600.0h15.0v15.0h-15.0zM804.8 598.2h15.0v15.0h-15.0zM805.7 596.3h15.0v15.0h-15.0zM806.5 594.5h15.0v15.0h-15.0zM807.6 592.8h15.0v15.0h-15.0zM808.7 591.1h15.0v15.0h-15.0zM809.7 589.4h15.0v15.0h-15.0zM810.8 587.7h15.0v15.0h-15.0zM811.9 586.0h15.0v15.0h-15.0zM813.0 584.3h15.0v15.0h-15.0zM814.0 582.7h15.0v15.0h-15.0zM815.1 581.0h15.0v15.0h-15.0zM816.2 579.3h15.0v15.0h-15.0zM817.3 577.6h15.0v15.0h-15.0zM818.3 575.9h15.0v15.0h-15.0zM819.4 574.2h15.0v15.0h-15.0zM820.5 572.5h15.0v15.0h-15.0zM821.6 570.8h15.0v15.0h-15.0zM822.8 569.1h15.0v15.0h-15.0zM823.9 567.4h15.0v15.0h-15.0zM825.1 565.6h15.0v15.0h-15.0zM826.2 563.9h15.0v15.0h-15.0zM827.4 562.2h15.0v15.0h-15.0zM828.5 560.5h15.0v15.0h-15.0zM830.0 558.8h15.0v15.0h-15.0zM831.5 557.0h15.0v15.0h-15.0zM833.0 555.2h15.0v15.0h-15.0zM834.5 553.5h15.0v15.0h-15.0zM835.9 551.6h15.0v15.0h-15.0zM837.2 549.6h15.0v15.0h-15.0zM838.6 547.7h15.0v15.0h-15.0zM840.0 545.8h15.0v15.0h-15.0zM841.6 544.2h15.0v15.0h-15.0zM843.1 542.6h15.0v15.0h-15.0zM844.7 541.0h15.0v15.0h-15.0zM846.2 539.4h15.0v15.0h-15.0zM847.8 537.8h15.0v15.0h-15.0zM849.4 536.2h15.0v15.0h-15.0zM850.9 534.6h15.0v15.0h-15.0zM852.5 533.0h15.0v15.0h-15.0zM854.2 531.9h15.0v15.0h-15.0zM856.0 530.8h15.0v15.0h-15.0zM857.8 529.6h15.0v15.0h-15.0zM859.5 528.5h15.0v15.0h-15.0zM861.2 527.1h15.0v15.0h-15.0zM862.8 525.7h15.0v15.0h-15.0zM864.5 524.2h15.0v15.0h-15.0zM866.2 522.8h15.0v15.0h-15.0zM867.8 521.4h15.0v15.0h-15.0zM869.5 520.0h15.0v15.0h-15.0zM871.5 518.9h15.0v15.0h-15.0zM873.5 517.9h15.0v15.0h-15.0zM875.5 516.8h15.0v15.0h-15.0zM877.5 515.7h15.0v15.0h-15.0zM879.5 514.6h15.0v15.0h-15.0zM881.5 513.6h15.0v15.0h-15.0zM883.5 512.5h15.0v15.0h-15.0zM885.3 511.4h15.0v15.0h-15.0zM887.1 510.4h15.0v15.0h-15.0zM888.8 509.3h15.0v15.0h-15.0zM890.6 508.2h15.0v15.0h-15.0zM892.4 507.2h15.0v15.0h-15.0zM894.2 506.1h15.0v15.0h-15.0zM895.9 505.0h15.0v15.0h-15.0zM897.7 504.0h15.0v15.0h-15.0zM899.5 502.9h15.0v15.0h-15.0zM901.5 502.1h15.0v15.0h-15.0zM903.5 501.3h15.0v15.0h-15.0zM905.5 500.5h15.0v15.0h-15.0zM907.5 499.7h15.0v15.0h-15.0zM909.5 498.9h15.0v15.0h-15.0zM911.5 498.1h15.0v15.0h-15.0zM913.5 497.3h15.0v15.0h-15.0zM915.5 496.5h15.0v15.0h-15.0zM917.4 495.5h15.0v15.0h-15.0zM919.2 494.5h15.0v15.0h-15.0zM921.1 493.5h15.0v15.0h-15.0zM922.9 492.5h15.0v15.0h-15.0zM924.8 491.5h15.0v15.0h-15.0zM926.6 490.5h15.0v15.0h-15.0zM928.5 489.5h15.0v15.0h-15.0zM307.4 531.5H321.4V545.5H307.4zM315.4 545.5H325.0V559.5H315.4zM320.0 550.2H338.4V564.2H320.0zM332.5 550.6H346.7V564.6H332.5zM338.6 575.4H348.8V589.4H338.6zM338.6 570.7H348.8V584.7H338.6zM348.8 582.0H363.4V596.0H348.8zM363.4 590.0H374.0V604.0H363.4zM374.0 604.5H380.5V618.5H374.0zM380.5 618.8H394.7V632.8H380.5zM394.7 622.7H405.5V636.7H394.7zM405.5 632.3H418.0V646.3H405.5zM418.0 637.4H424.3V651.4H418.0zM424.3 643.7H434.5V657.7H424.3zM434.5 656.5H449.0V670.5H434.5zM449.0 660.5H462.4V674.5H449.0zM462.4 663.2H474.8V677.2H462.4zM474.8 666.8H510.0V680.8H474.8zM510.0 675.5H524.7V689.5H510.0zM524.7 668.7H539.0V682.7H524.7zM940.0 491.0H945.0V510.0H940.0zM945.0 482.6H950.0V509.6H945.0zM950.0 482.3H951.0V509.3H950.0zM951.0 482.2H956.0V501.2H951.0zM956.0 481.9H959.0V500.9H956.0zM959.0 481.6H964.0V498.2H959.0zM964.0 481.3H966.0V497.9H964.0zM966.0 469.3H971.0V497.7H966.0zM971.0 469.0H974.0V497.4H971.0zM974.0 468.8H978.0V482.6H974.0zM978.0 469.1H981.0V482.9H978.0zM981.0 469.5H984.0V483.3H981.0zM984.0 470.0H987.0V483.8H984.0zM987.0 470.4H989.0V484.2H987.0zM989.0 468.2H992.0V484.5H989.0zM992.0 468.6H995.0V484.9H992.0zM995.0 469.0H997.0V485.3H995.0zM997.0 469.3H999.0V483.1H997.0zM999.0 461.5H1002.0V483.4H999.0zM1002.0 461.8H1003.0V483.7H1002.0zM1003.0 461.9H1007.0V475.7H1003.0zM1007.0 462.2H1010.0V476.0H1007.0zM1010.0 460.4H1014.0V476.3H1010.0zM1014.0 460.7H1016.0V476.6H1014.0zM1016.0 460.9H1020.0V481.4H1016.0zM1020.0 461.2H1024.0V481.7H1020.0zM1024.0 461.6H1028.0V482.1H1024.0zM1028.0 461.9H1030.0V482.4H1028.0zM1030.0 462.1H1033.0V476.4H1030.0zM1033.0 457.8H1036.0V476.6H1033.0zM1036.0 458.0H1043.0V472.3H1036.0zM1043.0 449.9H1047.0V472.2H1043.0zM1047.0 449.9H1055.0V463.7H1047.0zM1055.0 452.0H1056.0V465.8H1055.0zM1056.0 452.0H1057.0V482.8H1056.0zM1057.0 469.0H1066.0V482.8H1057.0zM1066.0 445.6H1070.0V480.5H1066.0zM1070.0 445.5H1082.0V465.4H1070.0zM1082.0 445.8H1084.0V465.7H1082.0zM1084.0 448.8H1086.0V463.9H1084.0zM1086.0 449.2H1088.0V464.4H1086.0zM1088.0 449.7H1090.0V464.8H1088.0zM1090.0 450.1H1092.0V465.2H1090.0zM1092.0 450.5H1093.0V465.6H1092.0zM1093.0 450.9H1094.0V466.0H1093.0zM1094.0 451.2H1095.0V466.4H1094.0zM1095.0 451.6H1096.0V466.7H1095.0zM1096.0 452.0H1097.0V467.1H1096.0zM1097.0 452.4H1098.0V467.5H1097.0zM1098.0 452.8H1099.0V467.9H1098.0zM1099.0 453.1H1100.0V468.2H1099.0zM1100.0 453.5H1108.0V468.6H1100.0zM1108.0 451.0H1114.0V468.6H1108.0zM1114.0 451.0H1123.0V464.0H1114.0zM1123.0 449.0H1129.0V464.0H1123.0zM1129.0 449.0H1137.0V462.0H1129.0zM1137.0 443.0H1143.0V462.0H1137.0zM1143.0 443.0H1151.0V466.0H1143.0zM1151.0 448.0H1157.0V466.0H1151.0zM1157.0 443.0H1158.0V466.0H1157.0zM1158.0 443.0H1164.0V461.0H1158.0zM1164.0 443.0H1170.0V459.0H1164.0zM1170.0 445.0H1179.0V459.0H1170.0zM1179.0 440.6H1182.0V459.0H1179.0zM1182.0 440.6H1188.0V455.4H1182.0zM1188.0 440.6H1193.0V466.0H1188.0zM1193.0 449.0H1200.0V466.0H1193.0zM1200.0 434.0H1208.0V466.0H1200.0zM1208.0 434.0H1213.0V456.0H1208.0zM1213.0 434.0H1214.0V457.0H1213.0zM1214.0 438.6H1222.0V457.0H1214.0zM1222.0 441.0H1244.0V457.0H1222.0zM1244.0 438.6H1248.0V457.0H1244.0zM1248.0 438.6H1257.0V453.0H1248.0zM1257.0 434.6H1264.0V453.0H1257.0zM1264.0 434.6H1270.0V455.0H1264.0zM1270.0 436.0H1290.0V455.0H1270.0zM1290.0 434.6H1292.0V455.0H1290.0zM1292.0 434.6H1300.0V451.0H1292.0zM1300.0 434.6H1304.0V453.0H1300.0zM1304.0 436.0H1314.0V453.0H1304.0zM1314.0 436.0H1315.0V451.0H1314.0zM1315.0 438.6H1324.0V451.0H1315.0zM1324.0 436.0H1334.0V451.0H1324.0zM1334.0 426.1H1337.0V451.1H1334.0zM1337.0 426.1H1347.0V455.1H1337.0zM1347.0 426.3H1348.0V452.3H1347.0zM1348.0 436.8H1366.0V452.3H1348.0zM1366.0 437.1H1369.0V452.6H1366.0zM1369.0 434.8H1370.0V452.6H1369.0zM1370.0 434.9H1389.0V450.7H1370.0zM1389.0 431.4H1403.0V451.0H1389.0zM1403.0 433.2H1404.0V451.2H1403.0zM1404.0 433.2H1409.0V452.2H1404.0zM1409.0 437.8H1424.0V452.3H1409.0zM1424.0 433.6H1428.0V452.6H1424.0zM1428.0 433.6H1437.0V447.6H1428.0zM1437.0 432.2H1447.0V447.8H1437.0zM1447.0 444.6H1457.0V458.9H1447.0zM1457.0 434.2H1460.0V459.2H1457.0zM1460.0 434.3H1470.0V450.3H1460.0zM1470.0 433.0H1481.0V450.6H1470.0zM1481.0 445.5H1491.0V459.9H1481.0zM1491.0 439.7H1494.0V460.2H1491.0zM1494.0 439.8H1504.0V454.3H1494.0zM1504.0 440.1H1514.0V454.6H1504.0zM1514.0 440.4H1524.0V454.9H1514.0zM1524.0 440.7H1528.0V455.2H1524.0zM1528.0 444.6H1538.0V457.3H1528.0zM1538.0 444.9H1541.0V457.6H1538.0zM1541.0 443.5H1552.0V462.5H1541.0zM1552.0 443.8H1554.0V462.8H1552.0zM1554.0 446.1H1569.0V461.1H1554.0zM1569.0 446.4H1572.0V461.4H1569.0zM1572.0 449.4H1583.0V463.2H1572.0zM1583.0 448.3H1596.0V461.7H1583.0zM1596.0 450.4H1607.0V463.9H1596.0zM1607.0 450.8H1614.0V464.2H1607.0zM1614.0 461.7H1623.0V475.7H1614.0zM1623.0 462.0H1628.0V476.0H1623.0zM1627.0 458.0H1641.0V472.0H1627.0zM1636.5 464.5H1655.5V478.5H1636.5zM1655.5 475.0H1690.0V489.0H1655.5zM1690.6 491.8H1709.6V510.8H1690.6zM1709.6 498.0H1740.5V518.5H1709.6zM1737.0 527.0H1763.6V553.6H1737.0zM1760.0 546.0H1774.0V560.0H1760.0zM1770.7 579.6H1784.7V593.9H1770.7zM1776.3 595.7H1797.6V612.3H1776.3zM1824.4 608.6H1839.0V623.4H1824.4zM1820.5 629.5H1834.5V643.5H1820.5zM1804.0 646.5H1818.0V660.3H1804.0zM1793.5 653.0H1807.7V666.8H1793.5zM1824.4 648.3H1839.0V662.2H1824.4zM1824.4 727.8H1839.0V741.6H1824.4zM1814.2 800.7H1828.6V815.0H1814.2z"/><path fill="#1a6ce0" d="M242.5 154.8h15.0v15.0h-15.0zM252.8 372.0h15.0v15.0h-15.0zM261.1 472.5h15.0v15.0h-15.0zM267.5 428.5h15.0v15.0h-15.0zM271.5 430.0h15.0v15.0h-15.0zM277.5 464.0h15.0v15.0h-15.0zM286.5 466.0h15.0v15.0h-15.0zM291.5 490.5h15.0v15.0h-15.0zM296.5 487.0h15.0v15.0h-15.0zM516.5 660.5h15.0v15.0h-15.0zM518.5 659.8h15.0v15.0h-15.0zM520.4 659.0h15.0v15.0h-15.0zM522.3 658.2h15.0v15.0h-15.0zM524.3 657.5h15.0v15.0h-15.0zM525.0 655.5h15.0v15.0h-15.0zM525.8 653.5h15.0v15.0h-15.0zM526.5 651.5h15.0v15.0h-15.0zM527.5 649.8h15.0v15.0h-15.0zM528.5 648.0h15.0v15.0h-15.0zM529.5 646.2h15.0v15.0h-15.0zM530.5 644.5h15.0v15.0h-15.0zM531.2 642.5h15.0v15.0h-15.0zM531.8 640.5h15.0v15.0h-15.0zM532.5 638.5h15.0v15.0h-15.0zM533.2 636.6h15.0v15.0h-15.0zM533.9 634.7h15.0v15.0h-15.0zM534.5 632.8h15.0v15.0h-15.0zM535.2 630.9h15.0v15.0h-15.0zM537.5 628.5h15.0v15.0h-15.0zM538.8 626.7h15.0v15.0h-15.0zM540.0 624.8h15.0v15.0h-15.0zM541.2 623.0h15.0v15.0h-15.0zM542.5 621.2h15.0v15.0h-15.0zM543.8 619.3h15.0v15.0h-15.0zM545.0 617.5h15.0v15.0h-15.0zM545.7 615.1h15.0v15.0h-15.0zM546.4 612.6h15.0v15.0h-15.0zM547.1 610.2h15.0v15.0h-15.0zM547.6 608.1h15.0v15.0h-15.0zM548.1 606.1h15.0v15.0h-15.0zM548.7 604.0h15.0v15.0h-15.0zM549.2 602.0h15.0v15.0h-15.0zM549.7 599.9h15.0v15.0h-15.0zM550.3 597.8h15.0v15.0h-15.0zM550.9 595.8h15.0v15.0h-15.0zM551.5 593.7h15.0v15.0h-15.0zM552.1 591.6h15.0v15.0h-15.0zM552.7 589.6h15.0v15.0h-15.0zM553.3 587.5h15.0v15.0h-15.0zM554.3 585.4h15.0v15.0h-15.0zM555.4 583.4h15.0v15.0h-15.0zM556.5 581.3h15.0v15.0h-15.0zM557.5 579.2h15.0v15.0h-15.0zM558.8 577.1h15.0v15.0h-15.0zM560.2 575.1h15.0v15.0h-15.0zM561.5 573.0h15.0v15.0h-15.0zM562.9 570.9h15.0v15.0h-15.0zM564.4 568.8h15.0v15.0h-15.0zM565.8 566.7h15.0v15.0h-15.0zM567.1 564.9h15.0v15.0h-15.0zM568.3 563.1h15.0v15.0h-15.0zM569.6 561.3h15.0v15.0h-15.0zM570.9 559.5h15.0v15.0h-15.0zM524.5 658.5h15.0v15.0h-15.0zM526.1 657.1h15.0v15.0h-15.0zM527.8 655.7h15.0v15.0h-15.0zM529.4 654.3h15.0v15.0h-15.0zM531.1 652.9h15.0v15.0h-15.0zM532.7 651.5h15.0v15.0h-15.0zM534.4 650.1h15.0v15.0h-15.0zM536.0 648.7h15.0v15.0h-15.0zM537.7 647.3h15.0v15.0h-15.0zM539.3 645.9h15.0v15.0h-15.0zM540.1 643.8h15.0v15.0h-15.0zM541.0 641.7h15.0v15.0h-15.0zM541.8 639.7h15.0v15.0h-15.0zM542.7 637.6h15.0v15.0h-15.0zM543.5 635.5h15.0v15.0h-15.0zM543.8 633.2h15.0v15.0h-15.0zM544.1 631.0h15.0v15.0h-15.0zM544.4 628.7h15.0v15.0h-15.0zM544.7 626.5h15.0v15.0h-15.0zM545.0 624.2h15.0v15.0h-15.0zM545.2 621.9h15.0v15.0h-15.0zM545.4 619.6h15.0v15.0h-15.0zM545.7 617.4h15.0v15.0h-15.0zM545.9 615.1h15.0v15.0h-15.0zM546.1 612.8h15.0v15.0h-15.0zM546.7 610.5h15.0v15.0h-15.0zM547.3 608.1h15.0v15.0h-15.0zM547.9 605.8h15.0v15.0h-15.0zM548.5 603.5h15.0v15.0h-15.0zM549.3 601.4h15.0v15.0h-15.0zM550.1 599.4h15.0v15.0h-15.0zM551.0 597.3h15.0v15.0h-15.0zM551.8 595.2h15.0v15.0h-15.0zM552.8 593.1h15.0v15.0h-15.0zM553.8 591.0h15.0v15.0h-15.0zM554.9 589.0h15.0v15.0h-15.0zM555.9 586.9h15.0v15.0h-15.0zM556.9 584.8h15.0v15.0h-15.0zM557.9 582.7h15.0v15.0h-15.0zM559.0 580.7h15.0v15.0h-15.0zM560.0 578.6h15.0v15.0h-15.0zM561.1 576.6h15.0v15.0h-15.0zM562.1 574.5h15.0v15.0h-15.0zM563.3 572.8h15.0v15.0h-15.0zM564.6 571.2h15.0v15.0h-15.0zM565.8 569.5h15.0v15.0h-15.0zM567.1 567.9h15.0v15.0h-15.0zM568.3 566.2h15.0v15.0h-15.0zM569.5 564.5h15.0v15.0h-15.0zM570.8 562.9h15.0v15.0h-15.0zM572.0 561.2h15.0v15.0h-15.0zM573.3 559.6h15.0v15.0h-15.0zM574.5 557.9h15.0v15.0h-15.0zM576.2 556.2h15.0v15.0h-15.0zM577.8 554.5h15.0v15.0h-15.0zM579.5 552.9h15.0v15.0h-15.0zM581.1 551.2h15.0v15.0h-15.0zM582.8 549.5h15.0v15.0h-15.0zM570.9 559.5h15.0v15.0h-15.0zM572.3 558.0h15.0v15.0h-15.0zM573.7 556.5h15.0v15.0h-15.0zM575.1 555.0h15.0v15.0h-15.0zM576.5 553.5h15.0v15.0h-15.0zM578.1 552.1h15.0v15.0h-15.0zM579.6 550.6h15.0v15.0h-15.0zM581.2 549.2h15.0v15.0h-15.0zM582.8 547.8h15.0v15.0h-15.0zM584.4 546.4h15.0v15.0h-15.0zM585.9 544.9h15.0v15.0h-15.0zM587.5 543.5h15.0v15.0h-15.0zM589.2 542.3h15.0v15.0h-15.0zM590.8 541.2h15.0v15.0h-15.0zM592.5 540.0h15.0v15.0h-15.0zM594.2 538.8h15.0v15.0h-15.0zM595.8 537.7h15.0v15.0h-15.0zM597.5 536.5h15.0v15.0h-15.0zM599.2 535.2h15.0v15.0h-15.0zM601.0 534.0h15.0v15.0h-15.0zM602.8 532.8h15.0v15.0h-15.0zM604.5 531.5h15.0v15.0h-15.0zM606.1 530.3h15.0v15.0h-15.0zM607.8 529.1h15.0v15.0h-15.0zM609.4 527.9h15.0v15.0h-15.0zM611.0 526.8h15.0v15.0h-15.0zM612.6 525.6h15.0v15.0h-15.0zM614.2 524.4h15.0v15.0h-15.0zM615.9 523.2h15.0v15.0h-15.0zM617.5 522.0h15.0v15.0h-15.0zM619.2 520.4h15.0v15.0h-15.0zM621.0 518.8h15.0v15.0h-15.0zM622.8 517.1h15.0v15.0h-15.0zM624.5 515.5h15.0v15.0h-15.0zM625.9 513.9h15.0v15.0h-15.0zM627.3 512.3h15.0v15.0h-15.0zM628.7 510.7h15.0v15.0h-15.0zM630.1 509.1h15.0v15.0h-15.0zM631.5 507.5h15.0v15.0h-15.0zM632.7 505.8h15.0v15.0h-15.0zM633.8 504.2h15.0v15.0h-15.0zM635.0 502.5h15.0v15.0h-15.0zM636.2 500.8h15.0v15.0h-15.0zM637.3 499.2h15.0v15.0h-15.0zM638.5 497.5h15.0v15.0h-15.0zM639.3 495.3h15.0v15.0h-15.0zM640.1 493.1h15.0v15.0h-15.0zM640.9 490.9h15.0v15.0h-15.0zM641.7 488.7h15.0v15.0h-15.0zM642.5 486.5h15.0v15.0h-15.0zM642.8 484.5h15.0v15.0h-15.0zM643.1 482.5h15.0v15.0h-15.0zM643.4 480.5h15.0v15.0h-15.0zM643.6 478.5h15.0v15.0h-15.0zM643.9 476.5h15.0v15.0h-15.0zM644.2 474.5h15.0v15.0h-15.0zM644.5 472.5h15.0v15.0h-15.0zM644.7 470.5h15.0v15.0h-15.0zM644.9 468.5h15.0v15.0h-15.0zM645.1 466.5h15.0v15.0h-15.0zM645.3 464.5h15.0v15.0h-15.0zM645.5 462.5h15.0v15.0h-15.0zM645.6 460.5h15.0v15.0h-15.0zM645.8 458.5h15.0v15.0h-15.0zM645.9 456.5h15.0v15.0h-15.0zM646.0 454.5h15.0v15.0h-15.0zM645.5 437.0h15.0v15.0h-15.0zM647.5 399.2h15.0v15.0h-15.0zM647.5 344.5h15.0v15.0h-15.0zM647.5 319.5h15.0v15.0h-15.0zM652.5 614.5h15.0v15.0h-15.0zM652.5 689.5h15.0v15.0h-15.0zM652.5 698.5h15.0v15.0h-15.0zM652.5 803.0h15.0v15.0h-15.0zM652.5 668.5h15.0v15.0h-15.0zM652.5 666.5h15.0v15.0h-15.0zM652.5 664.5h15.0v15.0h-15.0zM652.5 662.5h15.0v15.0h-15.0zM652.5 660.5h15.0v15.0h-15.0zM652.5 658.5h15.0v15.0h-15.0zM652.5 656.5h15.0v15.0h-15.0zM652.5 654.5h15.0v15.0h-15.0zM652.5 652.5h15.0v15.0h-15.0zM652.5 650.5h15.0v15.0h-15.0zM652.5 648.5h15.0v15.0h-15.0zM652.5 646.5h15.0v15.0h-15.0zM652.5 644.5h15.0v15.0h-15.0zM654.5 642.5h15.0v15.0h-15.0zM656.5 640.5h15.0v15.0h-15.0zM658.7 640.2h15.0v15.0h-15.0zM660.9 639.9h15.0v15.0h-15.0zM663.1 639.6h15.0v15.0h-15.0zM665.3 639.3h15.0v15.0h-15.0zM667.5 639.0h15.0v15.0h-15.0zM669.6 639.0h15.0v15.0h-15.0zM671.7 639.1h15.0v15.0h-15.0zM673.8 639.1h15.0v15.0h-15.0zM675.8 639.2h15.0v15.0h-15.0zM677.9 639.2h15.0v15.0h-15.0zM680.0 639.2h15.0v15.0h-15.0zM682.1 639.3h15.0v15.0h-15.0zM684.2 639.3h15.0v15.0h-15.0zM686.2 639.4h15.0v15.0h-15.0zM688.3 639.4h15.0v15.0h-15.0zM690.4 639.5h15.0v15.0h-15.0zM692.5 639.5h15.0v15.0h-15.0zM694.5 640.0h15.0v15.0h-15.0zM696.5 640.4h15.0v15.0h-15.0zM698.5 640.9h15.0v15.0h-15.0zM700.5 641.4h15.0v15.0h-15.0zM702.5 641.8h15.0v15.0h-15.0zM704.5 642.3h15.0v15.0h-15.0zM706.5 642.8h15.0v15.0h-15.0zM708.5 643.2h15.0v15.0h-15.0zM710.5 643.7h15.0v15.0h-15.0zM712.5 644.2h15.0v15.0h-15.0zM714.5 644.6h15.0v15.0h-15.0zM716.5 645.1h15.0v15.0h-15.0zM718.5 645.6h15.0v15.0h-15.0zM720.5 646.0h15.0v15.0h-15.0zM722.5 646.5h15.0v15.0h-15.0zM724.5 646.9h15.0v15.0h-15.0zM726.5 647.3h15.0v15.0h-15.0zM728.5 647.7h15.0v15.0h-15.0zM730.5 648.0h15.0v15.0h-15.0zM732.5 648.4h15.0v15.0h-15.0zM734.5 648.8h15.0v15.0h-15.0zM736.5 649.2h15.0v15.0h-15.0zM738.5 649.6h15.0v15.0h-15.0zM740.5 650.0h15.0v15.0h-15.0zM742.5 650.3h15.0v15.0h-15.0zM744.5 650.7h15.0v15.0h-15.0zM746.5 651.1h15.0v15.0h-15.0zM748.5 651.5h15.0v15.0h-15.0zM750.6 651.9h15.0v15.0h-15.0zM752.7 652.2h15.0v15.0h-15.0zM754.8 652.6h15.0v15.0h-15.0zM756.8 653.0h15.0v15.0h-15.0zM758.9 653.4h15.0v15.0h-15.0zM761.0 653.8h15.0v15.0h-15.0zM763.1 654.1h15.0v15.0h-15.0zM765.2 654.5h15.0v15.0h-15.0zM767.2 654.9h15.0v15.0h-15.0zM769.3 655.2h15.0v15.0h-15.0zM771.4 655.6h15.0v15.0h-15.0zM773.5 656.0h15.0v15.0h-15.0zM775.6 656.2h15.0v15.0h-15.0zM777.7 656.4h15.0v15.0h-15.0zM779.8 656.6h15.0v15.0h-15.0zM781.8 656.8h15.0v15.0h-15.0zM783.9 657.0h15.0v15.0h-15.0zM786.0 657.2h15.0v15.0h-15.0zM788.1 657.5h15.0v15.0h-15.0zM790.2 657.7h15.0v15.0h-15.0zM792.2 657.9h15.0v15.0h-15.0zM794.3 658.1h15.0v15.0h-15.0zM796.4 658.3h15.0v15.0h-15.0zM798.5 658.5h15.0v15.0h-15.0zM800.5 658.7h15.0v15.0h-15.0zM802.5 658.8h15.0v15.0h-15.0zM804.5 659.0h15.0v15.0h-15.0zM806.5 659.2h15.0v15.0h-15.0zM808.5 659.3h15.0v15.0h-15.0zM810.5 659.5h15.0v15.0h-15.0zM812.5 659.7h15.0v15.0h-15.0zM814.5 659.8h15.0v15.0h-15.0zM816.5 660.0h15.0v15.0h-15.0zM818.5 660.2h15.0v15.0h-15.0zM820.5 660.3h15.0v15.0h-15.0zM822.5 660.5h15.0v15.0h-15.0zM824.5 660.2h15.0v15.0h-15.0zM826.5 660.0h15.0v15.0h-15.0zM828.5 659.8h15.0v15.0h-15.0zM830.5 659.5h15.0v15.0h-15.0zM831.2 657.5h15.0v15.0h-15.0zM831.8 655.5h15.0v15.0h-15.0zM832.5 653.5h15.0v15.0h-15.0zM833.2 651.5h15.0v15.0h-15.0zM833.8 649.5h15.0v15.0h-15.0zM834.5 647.5h15.0v15.0h-15.0zM835.0 645.5h15.0v15.0h-15.0zM835.5 643.5h15.0v15.0h-15.0zM836.0 641.5h15.0v15.0h-15.0zM836.5 639.5h15.0v15.0h-15.0zM837.2 637.6h15.0v15.0h-15.0zM837.9 635.7h15.0v15.0h-15.0zM838.6 633.8h15.0v15.0h-15.0zM839.4 631.8h15.0v15.0h-15.0zM840.1 629.9h15.0v15.0h-15.0zM840.8 628.0h15.0v15.0h-15.0zM841.5 626.1h15.0v15.0h-15.0zM842.2 624.2h15.0v15.0h-15.0zM843.0 622.2h15.0v15.0h-15.0zM843.7 620.3h15.0v15.0h-15.0zM844.4 618.4h15.0v15.0h-15.0zM845.1 616.5h15.0v15.0h-15.0zM845.7 614.5h15.0v15.0h-15.0zM846.3 612.5h15.0v15.0h-15.0zM846.8 610.5h15.0v15.0h-15.0zM847.4 608.5h15.0v15.0h-15.0zM848.0 606.5h15.0v15.0h-15.0zM848.6 604.5h15.0v15.0h-15.0zM849.2 602.5h15.0v15.0h-15.0zM849.8 600.5h15.0v15.0h-15.0zM850.3 598.5h15.0v15.0h-15.0zM850.9 596.5h15.0v15.0h-15.0zM851.5 594.5h15.0v15.0h-15.0zM852.0 592.5h15.0v15.0h-15.0zM852.5 590.5h15.0v15.0h-15.0zM853.0 588.5h15.0v15.0h-15.0zM853.5 586.5h15.0v15.0h-15.0zM854.0 584.5h15.0v15.0h-15.0zM854.5 582.5h15.0v15.0h-15.0zM855.0 580.5h15.0v15.0h-15.0zM855.5 578.5h15.0v15.0h-15.0zM856.0 576.5h15.0v15.0h-15.0zM856.5 574.5h15.0v15.0h-15.0zM857.2 572.5h15.0v15.0h-15.0zM858.0 570.5h15.0v15.0h-15.0zM858.8 568.5h15.0v15.0h-15.0zM859.5 566.5h15.0v15.0h-15.0zM860.2 564.5h15.0v15.0h-15.0zM861.0 562.5h15.0v15.0h-15.0zM861.8 560.5h15.0v15.0h-15.0zM862.5 558.5h15.0v15.0h-15.0zM863.6 556.8h15.0v15.0h-15.0zM864.8 555.1h15.0v15.0h-15.0zM865.9 553.4h15.0v15.0h-15.0zM867.1 551.6h15.0v15.0h-15.0zM868.2 549.9h15.0v15.0h-15.0zM869.4 548.2h15.0v15.0h-15.0zM870.5 546.5h15.0v15.0h-15.0zM871.9 544.9h15.0v15.0h-15.0zM873.4 543.4h15.0v15.0h-15.0zM874.8 541.8h15.0v15.0h-15.0zM876.3 540.3h15.0v15.0h-15.0zM877.7 538.7h15.0v15.0h-15.0zM879.2 537.2h15.0v15.0h-15.0zM880.6 535.6h15.0v15.0h-15.0zM882.1 534.1h15.0v15.0h-15.0zM883.5 532.5h15.0v15.0h-15.0zM885.1 531.2h15.0v15.0h-15.0zM886.7 529.9h15.0v15.0h-15.0zM888.3 528.6h15.0v15.0h-15.0zM889.9 527.3h15.0v15.0h-15.0zM891.5 526.0h15.0v15.0h-15.0zM893.1 524.7h15.0v15.0h-15.0zM894.7 523.4h15.0v15.0h-15.0zM896.3 522.1h15.0v15.0h-15.0zM897.9 520.8h15.0v15.0h-15.0zM899.5 519.5h15.0v15.0h-15.0zM901.2 518.4h15.0v15.0h-15.0zM902.9 517.3h15.0v15.0h-15.0zM904.6 516.2h15.0v15.0h-15.0zM906.3 515.1h15.0v15.0h-15.0zM908.0 514.0h15.0v15.0h-15.0zM909.7 512.9h15.0v15.0h-15.0zM911.4 511.8h15.0v15.0h-15.0zM913.1 510.7h15.0v15.0h-15.0zM914.8 509.6h15.0v15.0h-15.0zM916.5 508.5h15.0v15.0h-15.0zM918.5 507.5h15.0v15.0h-15.0zM920.5 506.5h15.0v15.0h-15.0zM922.5 505.5h15.0v15.0h-15.0zM924.5 504.5h15.0v15.0h-15.0zM926.5 503.5h15.0v15.0h-15.0zM928.5 502.5h15.0v15.0h-15.0zM307.3 518.7H322.0V533.0H307.3zM315.4 531.3H330.5V545.5H315.4zM322.0 535.4H340.6V550.0H322.0zM332.5 539.8H346.7V554.0H332.5zM338.6 556.5H353.3V570.5H338.6zM345.0 562.6H359.3V577.0H345.0zM349.6 569.0H367.5V585.4H349.6zM363.4 579.3H378.0V593.5H363.4zM374.8 594.0H388.6V620.0H374.8zM388.6 604.4H399.3V618.6H388.6zM399.3 610.5H409.7V624.7H399.3zM409.7 612.6H415.9V626.8H409.7zM415.9 620.9H426.2V635.9H415.9zM426.2 627.6H432.4V642.0H426.2zM432.4 633.8H445.3V648.0H432.4zM438.0 648.0H445.3V662.8H438.0zM445.3 640.0H459.8V654.2H445.3zM459.8 651.4H476.4V667.0H459.8zM476.4 656.5H503.4V671.0H476.4zM503.4 658.0H510.0V672.0H503.4zM510.0 658.0H524.7V679.0H510.0zM940.0 497.0H945.0V516.0H940.0zM945.0 489.0H951.0V516.0H945.0zM951.0 489.0H959.0V508.0H951.0zM959.0 489.0H966.0V505.6H959.0zM966.0 477.2H974.0V505.6H966.0zM974.0 477.2H989.0V491.0H974.0zM989.0 474.7H997.0V491.0H989.0zM997.0 474.7H999.0V488.5H997.0zM999.0 466.6H1003.0V488.5H999.0zM1003.0 466.6H1010.0V480.4H1003.0zM1010.0 464.5H1016.0V480.4H1010.0zM1016.0 464.5H1030.0V485.0H1016.0zM1030.0 464.5H1033.0V478.8H1030.0zM1033.0 460.0H1036.0V478.8H1033.0zM1036.0 460.0H1043.0V474.3H1036.0zM1043.0 452.0H1047.0V474.3H1043.0zM1047.0 452.0H1056.0V465.8H1047.0zM1056.0 452.0H1057.0V482.8H1056.0zM1057.0 469.0H1066.0V482.8H1057.0zM1066.0 447.9H1070.0V482.8H1066.0zM1070.0 447.9H1084.0V467.8H1070.0zM1084.0 450.5H1108.0V465.6H1084.0zM1108.0 448.0H1114.0V465.6H1108.0zM1114.0 448.0H1123.0V461.0H1114.0zM1123.0 446.0H1129.0V461.0H1123.0zM1129.0 446.0H1137.0V459.0H1129.0zM1137.0 440.0H1143.0V459.0H1137.0zM1143.0 440.0H1151.0V463.0H1143.0zM1151.0 445.0H1157.0V463.0H1151.0zM1157.0 440.0H1158.0V463.0H1157.0zM1158.0 440.0H1164.0V458.0H1158.0zM1164.0 440.0H1170.0V456.0H1164.0zM1170.0 442.0H1179.0V456.0H1170.0zM1179.0 437.6H1182.0V456.0H1179.0zM1182.0 437.6H1188.0V452.4H1182.0zM1188.0 437.6H1193.0V463.0H1188.0zM1193.0 446.0H1200.0V463.0H1193.0zM1200.0 431.0H1208.0V463.0H1200.0zM1208.0 431.0H1213.0V453.0H1208.0zM1213.0 431.0H1214.0V454.0H1213.0zM1214.0 435.6H1222.0V454.0H1214.0zM1222.0 438.0H1244.0V454.0H1222.0zM1244.0 435.6H1248.0V454.0H1244.0zM1248.0 435.6H1257.0V450.0H1248.0zM1257.0 431.6H1264.0V450.0H1257.0zM1264.0 431.6H1270.0V452.0H1264.0zM1270.0 433.0H1290.0V452.0H1270.0zM1290.0 431.6H1292.0V452.0H1290.0zM1292.0 431.6H1300.0V448.0H1292.0zM1300.0 431.6H1304.0V450.0H1300.0zM1304.0 433.0H1314.0V450.0H1304.0zM1314.0 433.0H1315.0V448.0H1314.0zM1315.0 435.6H1324.0V448.0H1315.0zM1324.0 433.0H1334.0V448.0H1324.0zM1334.0 423.0H1337.0V448.0H1334.0zM1337.0 423.0H1347.0V452.0H1337.0zM1347.0 423.0H1348.0V449.0H1347.0zM1348.0 433.5H1369.0V449.0H1348.0zM1369.0 431.2H1370.0V449.0H1369.0zM1370.0 431.2H1389.0V447.0H1370.0zM1389.0 427.4H1403.0V447.0H1389.0zM1403.0 429.0H1404.0V447.0H1403.0zM1404.0 429.0H1409.0V448.0H1404.0zM1409.0 433.5H1424.0V448.0H1409.0zM1424.0 429.0H1428.0V448.0H1424.0zM1428.0 429.0H1437.0V443.0H1428.0zM1437.0 427.4H1447.0V443.0H1437.0zM1447.0 439.6H1457.0V454.0H1447.0zM1457.0 429.0H1460.0V454.0H1457.0zM1460.0 429.0H1470.0V445.0H1460.0zM1470.0 427.4H1481.0V445.0H1470.0zM1481.0 439.6H1491.0V454.0H1481.0zM1491.0 433.5H1494.0V454.0H1491.0zM1494.0 433.5H1528.0V448.0H1494.0zM1528.0 437.3H1541.0V450.0H1528.0zM1541.0 435.8H1554.0V454.8H1541.0zM1554.0 438.0H1572.0V453.0H1554.0zM1572.0 441.0H1583.0V454.8H1572.0zM1583.0 439.6H1596.0V453.0H1583.0zM1596.0 441.5H1614.0V455.0H1596.0zM1614.0 452.2H1628.0V466.2H1614.0zM1628.0 447.6H1640.7V462.3H1628.0zM1636.5 453.9H1661.8V468.0H1636.5zM1655.5 462.3H1670.2V476.4H1655.5zM1670.2 460.2H1697.0V476.4H1670.2zM1691.3 476.4H1711.0V491.8H1691.3zM1711.0 478.5H1718.0V497.4H1711.0zM1718.0 483.4H1730.6V499.5H1718.0zM1730.6 485.5H1740.5V499.5H1730.6zM1737.0 502.3H1744.0V516.4H1737.0zM1744.0 498.1H1757.3V527.0H1744.0zM1757.3 508.0H1763.6V527.0H1757.3zM1760.0 515.0H1774.2V528.3H1760.0zM1770.7 541.7H1784.7V555.7H1770.7zM1777.0 548.0H1797.4V562.0H1777.0zM1803.7 560.6H1818.4V574.7H1803.7zM1793.8 588.0H1808.0V602.0H1793.8zM1824.4 629.5H1839.0V643.7H1824.4zM1814.2 665.0H1828.6V679.4H1814.2zM1824.4 678.0H1839.0V691.7H1824.4z"/><path fill="none" stroke="#6a00de" stroke-width="8" stroke-linejoin="round" d="M673.1 621.3L712.9 605.3M746.3 607.4L787.8 623.0M816.8 647.7L838.1 682.3M848.5 715.5L855.8 754.1L853.5 790.0M844.3 823.3L825.7 862.4M797.5 889.5L764.0 910.3M731.5 917.2L689.4 910.9M656.3 889.5L628.6 857.6M613.7 829.5L601.3 791.5M600.5 754.2L605.2 713.9M620.7 676.6L646.3 640.9"/><g fill="#000"><rect x="222" y="53" width="1684" height="6"/><rect x="222" y="1191" width="1684" height="6"/><rect x="222" y="53" width="6" height="1144"/><rect x="1900" y="53" width="6" height="1144"/><rect x="556.5" y="1164" width="6" height="28"/><rect x="892.5" y="1164" width="6" height="28"/><rect x="1228.5" y="1164" width="6" height="28"/><rect x="1563.5" y="1164" width="6" height="28"/><rect x="227" y="433.0" width="26" height="6"/><rect x="227" y="811.5" width="26" height="6"/></g><rect x="1415" y="765" width="8.5" height="8.5" fill="#555555"/><rect x="1415" y="865.5" width="8.5" height="8.5" fill="#f44343"/><rect x="1415" y="966" width="8.5" height="8.5" fill="#1a6ce0"/><g font-family="'Liberation Serif', 'Times New Roman', serif" fill="#000" shape-rendering="auto"><text x="190.5" y="77.3" font-size="76" text-anchor="end">0.96</text><text x="190.5" y="455.8" font-size="76" text-anchor="end">0.94</text><text x="190.5" y="835.3" font-size="76" text-anchor="end">0.92</text><text x="190.5" y="1215.8" font-size="76" text-anchor="end">0.90</text><text x="222.3" y="1283" font-size="76" text-anchor="middle">0.0</text><text x="558" y="1283" font-size="76" text-anchor="middle">0.2</text><text x="893.8" y="1283" font-size="76" text-anchor="middle">0.4</text><text x="1229.7" y="1283" font-size="76" text-anchor="middle">0.6</text><text x="1564.4" y="1283" font-size="76" text-anchor="middle">0.8</text><text x="1901.8" y="1283" font-size="76" text-anchor="middle">1.0</text><text x="1045" y="1321" font-size="76" text-anchor="middle">L</text><rect x="1024" y="1256" width="48" height="6.5"/><text transform="translate(89.5,647) rotate(-90)" font-size="76" text-anchor="middle">p</text><rect x="23" y="627.3" width="6.5" height="39.3"/><text x="508.6" y="998" font-size="87.5">Isobaric area</text><text x="1536" y="796.2" font-size="87">4 ms</text><text x="1536" y="895.8" font-size="87">5 ms</text><text x="1536" y="996.1" font-size="87">8 ms</text></g></svg></body></html>
